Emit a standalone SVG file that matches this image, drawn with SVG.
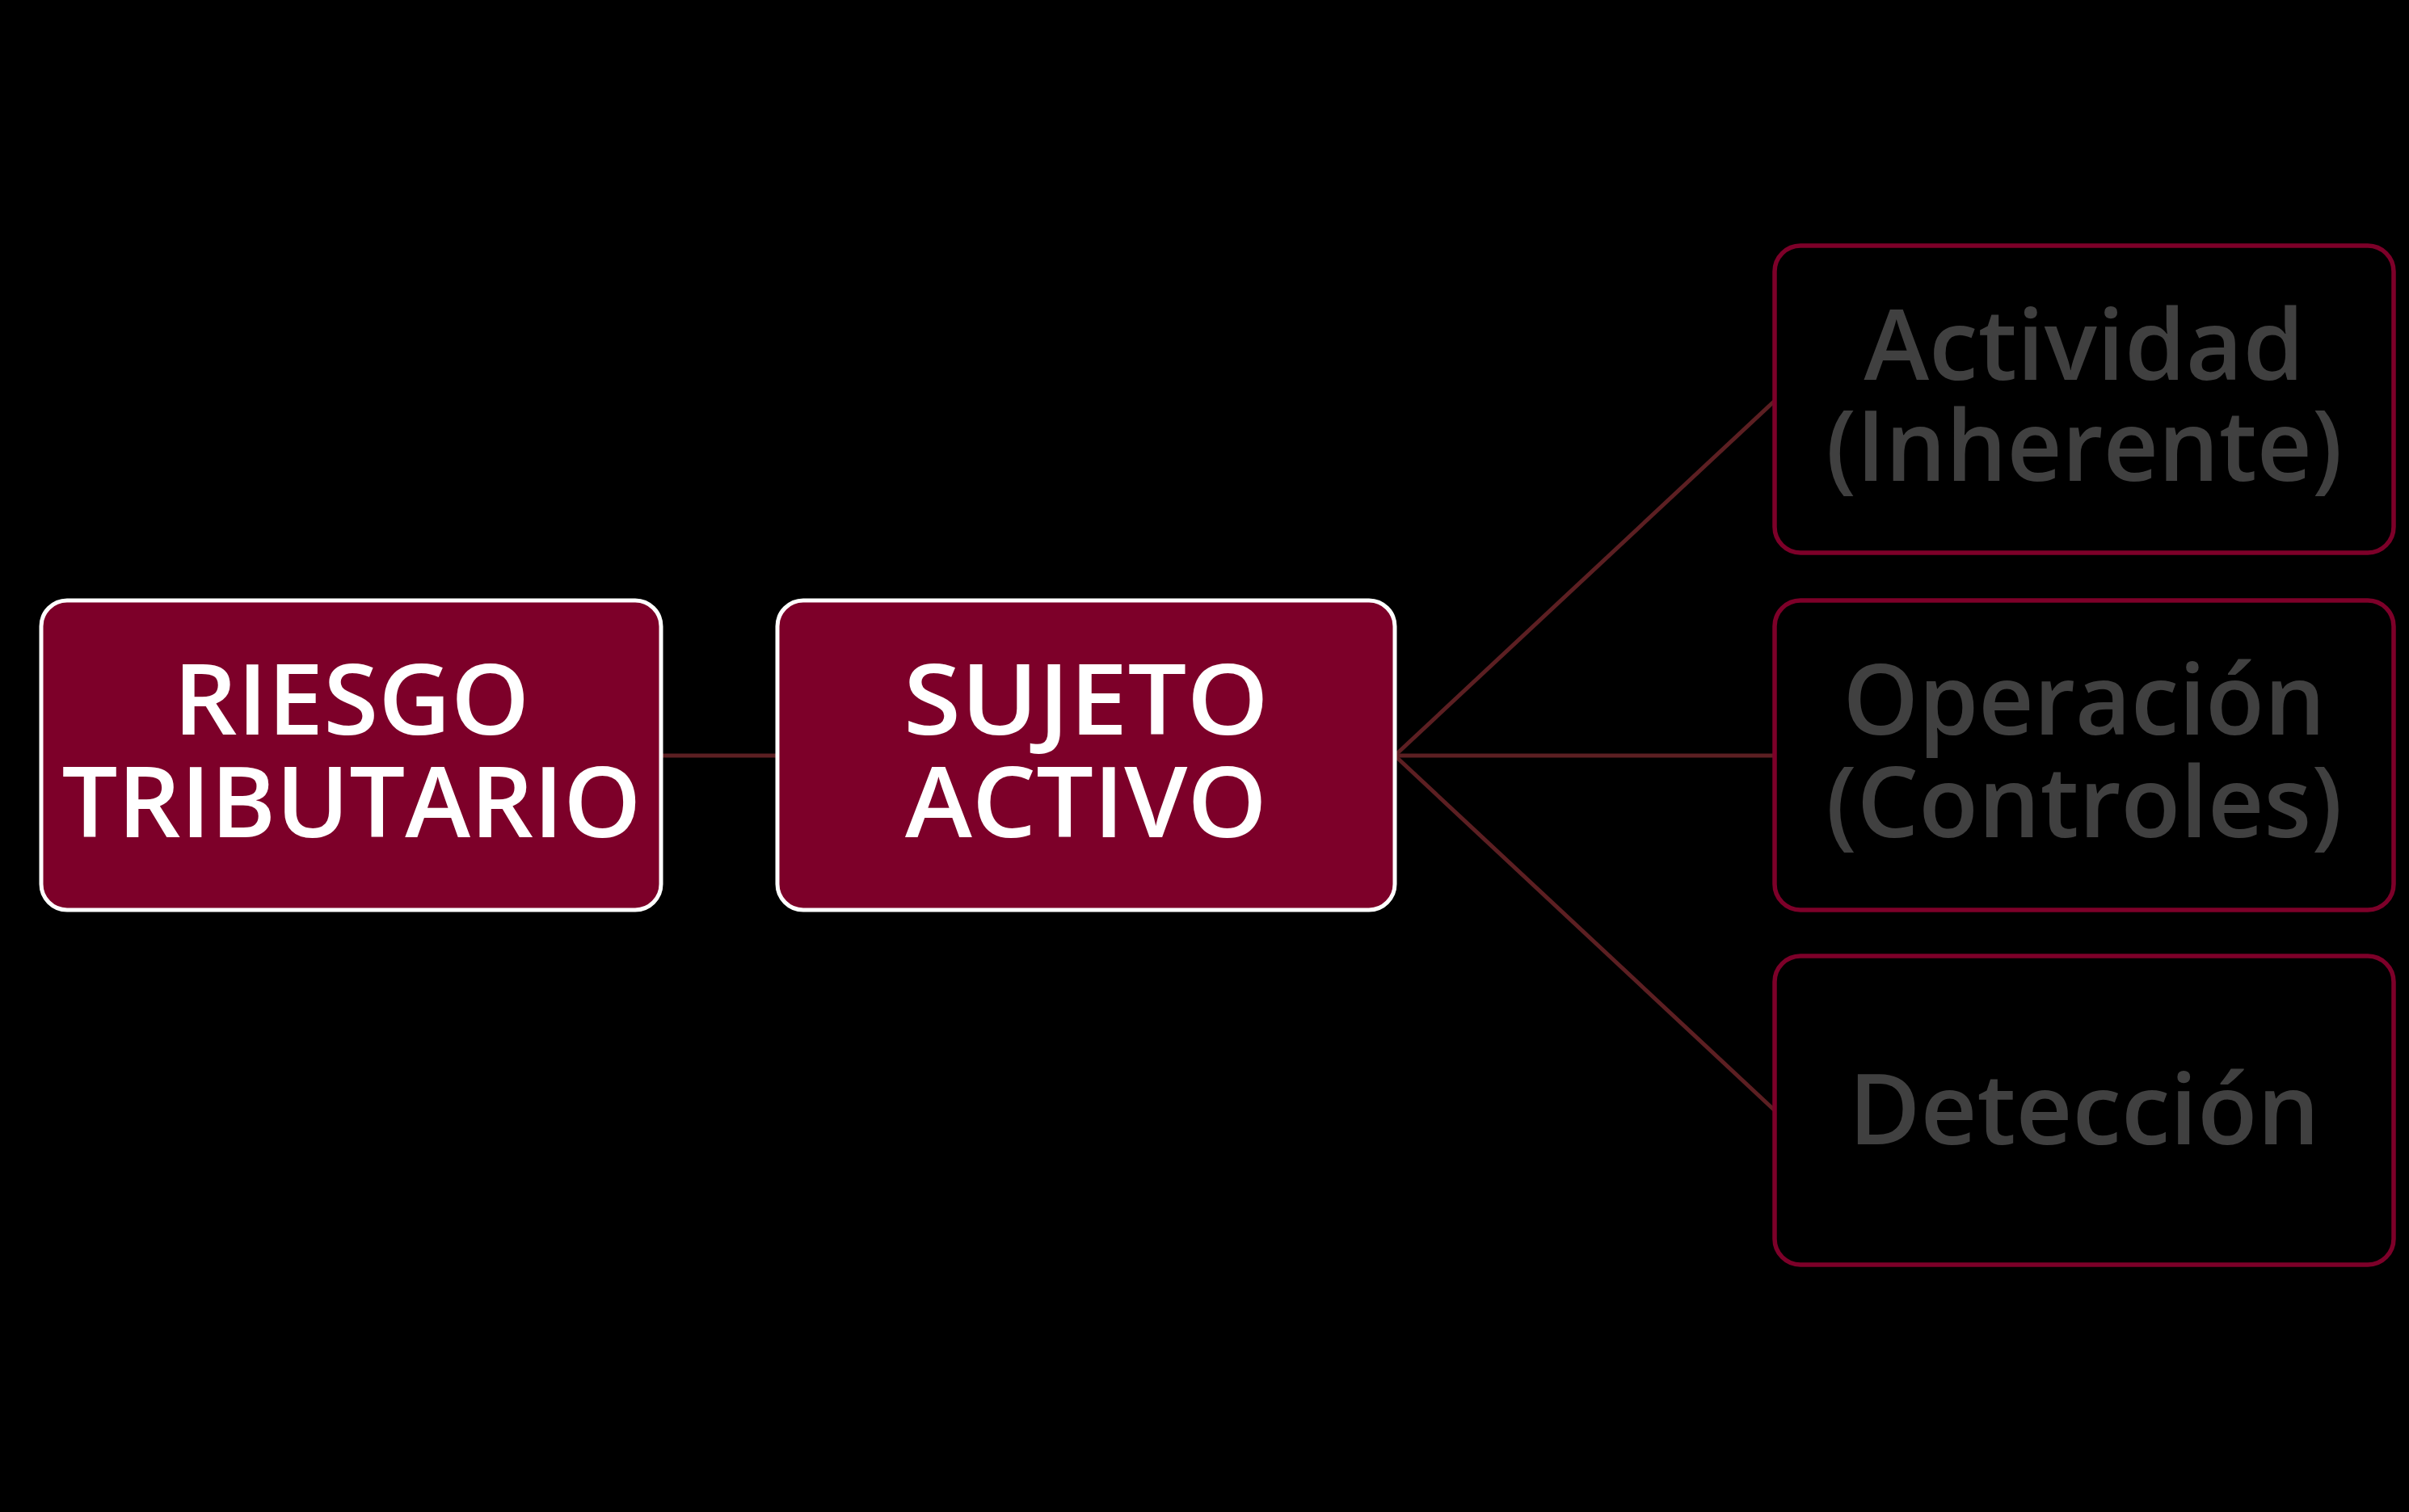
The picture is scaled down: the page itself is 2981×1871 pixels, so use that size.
<svg xmlns="http://www.w3.org/2000/svg" width="2981" height="1871" viewBox="0 0 2981 1871">
<style>
.bg{fill:#000}
.main rect{fill:#7D0029;stroke:#fff;stroke-width:5}
.sub rect{fill:#000;stroke:#7D0029;stroke-width:5.5}
text{font-family:"Open Sans","Liberation Sans",sans-serif;font-weight:600;font-size:122px;text-anchor:middle}
.main text{fill:#fff}
.sub text{fill:#404040}
.conn line{stroke:#5C1F22;stroke-width:5}
</style>
<rect class="bg" x="0" y="0" width="2981" height="1871"/>
<g class="conn">
<line x1="818" y1="935" x2="962" y2="935"/>
<line x1="1726" y1="935" x2="2196" y2="496"/>
<line x1="1726" y1="935" x2="2196" y2="935"/>
<line x1="1726" y1="935" x2="2196" y2="1374"/>
</g>
<g id="riesgo" class="main">
<rect x="51" y="743" width="767" height="383" rx="32"/>
<text x="435" y="909" textLength="441" lengthAdjust="spacingAndGlyphs">RIESGO</text>
<text x="435" y="1036" textLength="717" lengthAdjust="spacingAndGlyphs">TRIBUTARIO</text>
</g>
<g id="sujeto" class="main">
<rect x="962" y="743" width="764" height="383" rx="32"/>
<text x="1344" y="909" textLength="452" lengthAdjust="spacingAndGlyphs">SUJETO</text>
<text x="1344" y="1036" textLength="448" lengthAdjust="spacingAndGlyphs">ACTIVO</text>
</g>
<g id="actividad" class="sub">
<rect x="2196" y="304" width="766" height="380" rx="32"/>
<text x="2579" y="470" textLength="545" lengthAdjust="spacingAndGlyphs">Actividad</text>
<text x="2579" y="595" textLength="639" lengthAdjust="spacingAndGlyphs">(Inherente)</text>
</g>
<g id="operacion" class="sub">
<rect x="2196" y="743" width="766" height="383" rx="32"/>
<text x="2579" y="909" textLength="597" lengthAdjust="spacingAndGlyphs">Operación</text>
<text x="2579" y="1036" textLength="639" lengthAdjust="spacingAndGlyphs">(Controles)</text>
</g>
<g id="deteccion" class="sub">
<rect x="2196" y="1183" width="766" height="382" rx="32"/>
<text x="2579" y="1416" textLength="583" lengthAdjust="spacingAndGlyphs">Detección</text>
</g>
</svg>
